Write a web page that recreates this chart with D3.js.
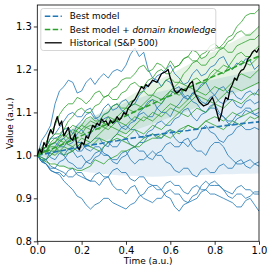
<!DOCTYPE html>
<html>
<head>
<meta charset="utf-8">
<script src="https://cdn.jsdelivr.net/npm/d3@7"></script>
<style>
  body { margin: 0; background: #fff; }
  svg { display: block; font-family: "DejaVu Sans", sans-serif; }
</style>
</head>
<body>
<div id="container"></div>
<script>
// time grid of the simulated paths
const pathTimes = [0,.02,.04,.06,.08,.1,.12,.14,.16,.18,.2,.22,.24,.26,.28,.3,.32,.34,.36,.38,.4,.42,.44,.46,.48,.5,
  .52,.54,.56,.58,.6,.62,.64,.66,.68,.7,.72,.74,.76,.78,.8,.82,.84,.86,.88,.9,.92,.94,.96,.98,1];
// time grid of the means / bands
const bandTimes = [0,.04,.08,.12,.16,.2,.24,.28,.32,.36,.4,.44,.48,.52,.56,.6,.64,.68,.72,.76,.8,.84,.88,.92,.96,1];

// "Best model" paths
const bluePaths = [
  [1.00,1.035,1.05,1.07,1.12,1.15,1.16,1.175,1.17,1.145,1.15,1.17,1.18,1.165,1.18,1.19,1.18,1.195,1.20,1.195,1.21,1.235,1.25,1.23,1.24,1.20,1.18,1.175,1.16,1.175,1.17,1.15,1.15,1.135,1.13,1.145,1.14,1.125,1.12,1.135,1.14,1.155,1.16,1.145,1.15,1.135,1.13,1.145,1.15,1.14,1.155],
  [1.00,1.015,1.02,1.04,1.04,1.045,1.06,1.065,1.05,1.07,1.08,1.095,1.10,1.085,1.09,1.11,1.12,1.105,1.11,1.125,1.13,1.115,1.12,1.14,1.15,1.165,1.17,1.185,1.19,1.20,1.21,1.19,1.18,1.165,1.17,1.19,1.20,1.185,1.19,1.205,1.21,1.225,1.23,1.21,1.20,1.215,1.21,1.225,1.22,1.20,1.21],
  [1.00,0.985,0.99,1.01,1.02,1.035,1.04,1.025,1.03,1.05,1.06,1.045,1.05,1.065,1.07,1.085,1.09,1.075,1.08,1.065,1.06,1.075,1.08,1.095,1.10,1.09,1.09,1.11,1.12,1.135,1.14,1.155,1.16,1.14,1.13,1.145,1.15,1.165,1.17,1.15,1.14,1.125,1.12,1.13,1.13,1.115,1.11,1.125,1.13,1.12,1.125],
  [1.00,1.015,1.01,0.995,0.99,1.005,1.00,1.015,1.02,1.01,1.01,1.025,1.03,1.04,1.04,1.025,1.02,1.04,1.05,1.065,1.07,1.06,1.06,1.045,1.04,1.055,1.06,1.075,1.08,1.07,1.07,1.085,1.09,1.105,1.11,1.09,1.08,1.095,1.10,1.115,1.12,1.10,1.09,1.08,1.08,1.095,1.10,1.11,1.11,1.095,1.10],
  [1.00,0.985,0.98,0.97,0.97,0.985,0.99,1.005,1.01,0.995,1.00,0.985,0.98,0.995,1.00,1.02,1.03,1.02,1.02,1.035,1.04,1.025,1.02,1.03,1.03,1.045,1.05,1.04,1.04,1.055,1.06,1.04,1.03,1.03,1.02,1.035,1.04,1.06,1.07,1.055,1.05,1.035,1.03,1.045,1.05,1.065,1.07,1.06,1.06,1.065,1.06],
  [1.00,0.995,0.99,1.00,1.01,1.01,1.00,0.985,0.98,0.97,0.97,0.985,0.99,1.005,1.01,1.00,1.00,0.985,0.98,0.995,1.00,1.015,1.02,1.01,1.01,0.995,0.99,1.005,1.01,1.025,1.03,1.02,1.02,1.035,1.04,1.02,1.01,1.01,1.00,1.02,1.03,1.03,1.02,1.00,0.99,0.98,0.98,0.985,0.99,0.98,0.985],
  [1.00,1.01,1.01,1.025,1.03,1.02,1.02,1.035,1.04,1.03,1.03,1.015,1.01,1.02,1.02,1.005,1.00,0.99,0.99,1.005,1.01,0.99,0.98,0.99,0.99,1.00,1.01,1.00,1.00,0.985,0.98,0.965,0.96,0.97,0.97,0.955,0.95,0.965,0.97,0.96,0.96,0.975,0.98,0.97,0.97,0.985,0.99,0.975,0.97,0.98,0.975],
  [1.00,0.99,0.98,0.965,0.96,0.96,0.95,0.965,0.97,0.955,0.95,0.945,0.94,0.955,0.96,0.95,0.95,0.965,0.97,0.96,0.96,0.945,0.94,0.95,0.95,0.935,0.93,0.93,0.92,0.905,0.90,0.88,0.87,0.885,0.89,0.905,0.91,0.93,0.94,0.93,0.93,0.93,0.92,0.905,0.90,0.91,0.91,0.90,0.905,0.915,0.915],
  [1.00,0.985,0.98,0.965,0.96,0.955,0.94,0.93,0.92,0.905,0.90,0.885,0.875,0.885,0.89,0.90,0.90,0.89,0.885,0.88,0.875,0.885,0.89,0.905,0.91,0.925,0.93,0.92,0.92,0.935,0.94,0.93,0.93,0.915,0.91,0.925,0.93,0.92,0.92,0.935,0.94,0.93,0.92,0.915,0.91,0.925,0.93,0.92,0.92,0.91,0.91],
  [1.00,0.99,0.99,0.975,0.97,0.965,0.96,0.95,0.95,0.96,0.96,0.945,0.94,0.94,0.93,0.945,0.95,0.93,0.92,0.92,0.91,0.925,0.93,0.91,0.90,0.895,0.89,0.90,0.90,0.915,0.92,0.91,0.91,0.895,0.89,0.895,0.90,0.915,0.92,0.91,0.91,0.905,0.90,0.895,0.89,0.88,0.88,0.895,0.90,0.885,0.87],
  [1.00,1.015,1.02,1.04,1.05,1.065,1.08,1.095,1.10,1.09,1.09,1.105,1.11,1.09,1.08,1.095,1.10,1.115,1.12,1.105,1.10,1.085,1.08,1.10,1.11,1.125,1.13,1.11,1.10,1.10,1.09,1.11,1.12,1.135,1.14,1.125,1.12,1.105,1.10,1.11,1.11,1.095,1.09,1.075,1.07,1.085,1.09,1.105,1.10,1.095,1.09]
];
const blueMean  = [1.0,1.004,1.008,1.012,1.016,1.02,1.024,1.027,1.031,1.034,1.038,1.041,1.044,1.047,1.05,1.053,1.056,1.058,1.061,1.064,1.066,1.069,1.071,1.074,1.076,1.078];
const blueLower = [1.0,.99,.98,.972,.967,.963,.96,.958,.956,.954,.953,.952,.951,.95,.951,.952,.953,.954,.954,.955,.955,.956,.956,.957,.957,.958];
const blueUpper = [1.0,1.018,1.036,1.052,1.065,1.077,1.088,1.096,1.106,1.114,1.123,1.13,1.137,1.144,1.149,1.154,1.159,1.162,1.168,1.173,1.177,1.182,1.186,1.191,1.195,1.198];

// "Best model + domain knowledge" paths
const greenPaths = [
  [1.00,1.02,1.03,1.055,1.07,1.095,1.11,1.12,1.12,1.135,1.13,1.12,1.13,1.145,1.15,1.135,1.14,1.155,1.16,1.175,1.18,1.18,1.19,1.205,1.21,1.195,1.20,1.215,1.21,1.20,1.22,1.205,1.21,1.225,1.23,1.245,1.24,1.225,1.23,1.245,1.25,1.25,1.26,1.275,1.28,1.30,1.31,1.325,1.33,1.33,1.34],
  [1.00,1.015,1.02,1.04,1.05,1.05,1.06,1.08,1.09,1.105,1.11,1.10,1.10,1.115,1.12,1.135,1.14,1.13,1.13,1.145,1.15,1.165,1.17,1.16,1.16,1.175,1.18,1.195,1.20,1.19,1.19,1.205,1.21,1.225,1.23,1.22,1.22,1.235,1.24,1.255,1.26,1.25,1.25,1.265,1.27,1.285,1.29,1.28,1.28,1.29,1.30],
  [1.00,1.005,1.01,1.025,1.03,1.045,1.05,1.04,1.04,1.06,1.07,1.085,1.09,1.08,1.08,1.095,1.10,1.115,1.12,1.11,1.11,1.125,1.13,1.145,1.15,1.14,1.14,1.155,1.16,1.175,1.18,1.17,1.17,1.19,1.20,1.215,1.22,1.21,1.21,1.225,1.23,1.245,1.25,1.24,1.24,1.255,1.26,1.265,1.27,1.27,1.28],
  [1.00,1.01,1.02,1.01,1.01,1.03,1.04,1.05,1.06,1.055,1.05,1.065,1.07,1.065,1.06,1.075,1.09,1.085,1.08,1.09,1.10,1.115,1.12,1.115,1.11,1.12,1.13,1.125,1.12,1.135,1.15,1.145,1.14,1.15,1.16,1.175,1.18,1.17,1.17,1.19,1.20,1.195,1.19,1.205,1.22,1.235,1.24,1.23,1.23,1.245,1.255],
  [1.00,1.01,1.01,1.03,1.04,1.035,1.03,1.04,1.05,1.06,1.07,1.065,1.06,1.07,1.08,1.075,1.07,1.08,1.09,1.10,1.11,1.105,1.10,1.11,1.12,1.13,1.14,1.135,1.13,1.14,1.15,1.16,1.17,1.165,1.16,1.155,1.15,1.16,1.17,1.18,1.19,1.20,1.21,1.205,1.20,1.21,1.22,1.215,1.21,1.22,1.23],
  [1.00,0.995,0.99,1.00,1.01,1.02,1.03,1.025,1.02,1.03,1.04,1.035,1.03,1.04,1.05,1.06,1.07,1.065,1.06,1.055,1.05,1.06,1.07,1.08,1.09,1.085,1.08,1.09,1.10,1.11,1.12,1.115,1.11,1.12,1.13,1.14,1.15,1.145,1.14,1.15,1.16,1.155,1.15,1.16,1.17,1.18,1.19,1.185,1.18,1.19,1.20],
  [1.00,1.01,1.02,1.025,1.03,1.04,1.05,1.06,1.07,1.065,1.06,1.07,1.08,1.075,1.07,1.065,1.06,1.07,1.08,1.075,1.07,1.08,1.09,1.085,1.08,1.09,1.10,1.095,1.09,1.10,1.11,1.105,1.10,1.11,1.12,1.13,1.14,1.135,1.13,1.125,1.12,1.13,1.14,1.15,1.16,1.155,1.15,1.155,1.16,1.165,1.17],
  [1.00,1.005,1.01,1.005,1.00,1.01,1.02,1.015,1.01,1.02,1.03,1.025,1.02,1.03,1.04,1.035,1.03,1.04,1.05,1.045,1.04,1.05,1.06,1.055,1.05,1.06,1.07,1.065,1.06,1.07,1.08,1.09,1.10,1.095,1.09,1.10,1.11,1.105,1.10,1.11,1.12,1.115,1.11,1.12,1.13,1.125,1.12,1.13,1.14,1.145,1.14],
  [1.00,0.99,0.985,0.98,0.98,0.975,0.975,0.97,0.97,0.965,0.965,0.97,0.975,0.99,0.985,0.98,0.99,0.995,1.00,1.01,1.01,1.015,1.02,1.02,1.03,1.035,1.04,1.04,1.05,1.045,1.04,1.05,1.06,1.065,1.07,1.065,1.06,1.07,1.08,1.085,1.09,1.085,1.08,1.09,1.10,1.095,1.09,1.095,1.10,1.105,1.11],
  [1.00,1.01,1.01,1.02,1.02,1.01,1.00,1.005,1.01,1.02,1.03,1.025,1.02,1.015,1.01,1.02,1.03,1.035,1.04,1.035,1.03,1.025,1.02,1.03,1.04,1.045,1.05,1.045,1.04,1.05,1.06,1.055,1.05,1.06,1.07,1.065,1.06,1.07,1.08,1.075,1.07,1.065,1.06,1.07,1.08,1.075,1.07,1.08,1.09,1.085,1.09]
];
const greenMean  = [1.0,1.009,1.018,1.027,1.036,1.046,1.055,1.064,1.074,1.083,1.092,1.102,1.111,1.12,1.13,1.139,1.148,1.157,1.167,1.176,1.185,1.194,1.203,1.213,1.222,1.231];
const greenLower = [1.0,.996,1.0,1.0045,1.01,1.017,1.023,1.03,1.037,1.044,1.051,1.059,1.066,1.073,1.081,1.089,1.096,1.103,1.112,1.119,1.127,1.134,1.142,1.151,1.158,1.166];
const greenUpper = [1.0,1.022,1.036,1.0495,1.062,1.075,1.087,1.098,1.111,1.122,1.133,1.145,1.156,1.167,1.179,1.189,1.2,1.211,1.222,1.233,1.243,1.254,1.264,1.275,1.286,1.296];

// historical S&P 500 (normalised)
const histT = [0,.01,.02,.03,.04,.05,.06,.07,.08,.09,.1,.11,.12,.13,.14,.15,.16,.17,.18,.19,.2,.21,.22,.23,.24,.25,.26,.27,.28,.29,.3,.31,.32,.33,.34,.35,.36,.37,.38,.39,.4,.41,.42,.43,.44,.45,.46,.47,.48,.49,.5,.52,.54,.56,.58,.59,.6,.62,.63,.65,.67,.69,.7,.71,.73,.75,.77,.79,.8,.81,.82,.83,.84,.85,.86,.87,.88,.89,.9,.91,.92,.93,.94,.95,.96,.97,.98,.99,1];
const histV = [1.0,1.015,1.005,1.03,1.02,1.045,1.06,1.05,1.075,1.09,1.07,1.08,1.045,1.055,1.065,1.04,1.035,1.05,1.02,1.013,1.03,1.025,1.045,1.04,1.055,1.07,1.065,1.075,1.07,1.085,1.078,1.08,1.07,1.082,1.075,1.08,1.09,1.082,1.088,1.1,1.095,1.11,1.115,1.125,1.13,1.14,1.15,1.16,1.155,1.165,1.16,1.175,1.17,1.19,1.195,1.2,1.18,1.15,1.145,1.155,1.15,1.168,1.172,1.145,1.125,1.115,1.12,1.135,1.12,1.1,1.08,1.095,1.12,1.135,1.13,1.155,1.165,1.18,1.175,1.19,1.198,1.2,1.21,1.225,1.23,1.24,1.245,1.24,1.25];

const xTicks = [0, 0.2, 0.4, 0.6, 0.8, 1.0];
const yTicks = [0.8, 0.9, 1.0, 1.1, 1.2, 1.3];

const W = 273, H = 273;
const margin = { top: 5, right: 14, bottom: 31.7, left: 37.3 };
const width = W - margin.left - margin.right;
const height = H - margin.top - margin.bottom;

const blue = '#1f77b4', green = '#2ca02c';

const svg = d3.select('#container')
  .append('svg')
  .attr('width', W)
  .attr('height', H);

const g = svg.append('g')
  .attr('transform', `translate(${margin.left},${margin.top})`);

const x = d3.scaleLinear().domain([0, 1]).range([0, width]);
const y = d3.scaleLinear().domain([0.8, 1.35]).range([height, 0]);

g.append('clipPath').attr('id', 'clip')
  .append('rect').attr('width', width).attr('height', height);

const plot = g.append('g').attr('clip-path', 'url(#clip)');

const pathLine = d3.line().x((d, i) => x(pathTimes[i])).y(d => y(d));
const bandLine = d3.line().x((d, i) => x(bandTimes[i])).y(d => y(d));
const band = (lo, hi) => d3.area()
  .x((d, i) => x(bandTimes[i]))
  .y0((d, i) => y(lo[i]))
  .y1((d, i) => y(hi[i]))(bandTimes);

// shaded bands
plot.append('path').attr('d', band(blueLower, blueUpper))
  .attr('fill', blue).attr('fill-opacity', 0.12);
plot.append('path').attr('d', band(greenLower, greenUpper))
  .attr('fill', green).attr('fill-opacity', 0.12);

// sample paths
plot.selectAll('.bp').data(bluePaths).enter().append('path')
  .attr('class', 'bp').attr('d', pathLine)
  .attr('fill', 'none').attr('stroke', blue)
  .attr('stroke-opacity', 0.8).attr('stroke-width', 1);

plot.selectAll('.gp').data(greenPaths).enter().append('path')
  .attr('class', 'gp').attr('d', pathLine)
  .attr('fill', 'none').attr('stroke', green)
  .attr('stroke-opacity', 0.8).attr('stroke-width', 1);

// means
plot.append('path').attr('d', bandLine(blueMean))
  .attr('fill', 'none').attr('stroke', blue)
  .attr('stroke-width', 1.6).attr('stroke-dasharray', '5.5,2.4');
plot.append('path').attr('d', bandLine(greenMean))
  .attr('fill', 'none').attr('stroke', green)
  .attr('stroke-width', 1.6).attr('stroke-dasharray', '5.5,2.4');

// historical
plot.append('path')
  .attr('d', d3.line().x((d, i) => x(histT[i])).y(d => y(d))(histV))
  .attr('fill', 'none').attr('stroke', '#000')
  .attr('stroke-width', 1.3).attr('stroke-linejoin', 'round');

// axes
const xAxis = d3.axisBottom(x).tickValues(xTicks).tickFormat(d3.format('.1f')).tickSize(3.5).tickPadding(2.5);
const yAxis = d3.axisLeft(y).tickValues(yTicks).tickFormat(d3.format('.1f')).tickSize(3.5).tickPadding(2);

const gx = g.append('g').attr('transform', `translate(0,${height})`).call(xAxis);
const gy = g.append('g').call(yAxis);
[gx, gy].forEach(a => {
  a.select('.domain').remove();
  a.selectAll('line').attr('stroke', '#000').attr('stroke-width', 0.8);
  a.selectAll('text').attr('font-size', 10).attr('fill', '#000')
    .attr('font-family', '"DejaVu Sans", sans-serif');
});

// frame
g.append('rect').attr('width', width).attr('height', height)
  .attr('fill', 'none').attr('stroke', '#000').attr('stroke-width', 0.8);

// axis labels
svg.append('text')
  .attr('x', margin.left + width / 2).attr('y', 264)
  .attr('text-anchor', 'middle').attr('font-size', 9)
  .text('Time (a.u.)');
svg.append('text')
  .attr('transform', `translate(12.5,${margin.top + height / 2}) rotate(-90)`)
  .attr('text-anchor', 'middle').attr('font-size', 9)
  .text('Value (a.u.)');

// legend
const legend = g.append('g').attr('transform', 'translate(3.5,3.5)');
legend.append('rect')
  .attr('width', 175).attr('height', 42).attr('rx', 2.5)
  .attr('fill', '#fff').attr('fill-opacity', 0.8)
  .attr('stroke', '#ccc').attr('stroke-width', 0.8);

const items = [
  { color: blue, dash: '5.5,2.4', width: 1.6, label: ['Best model'] },
  { color: green, dash: '5.5,2.4', width: 1.6, label: ['Best model + ', 'domain knowledge'] },
  { color: '#000', dash: null, width: 1.3, label: ['Historical (S&P 500)'] }
];
items.forEach((it, i) => {
  const row = legend.append('g').attr('transform', `translate(0,${7.7 + i * 13.3})`);
  row.append('line').attr('x1', 4).attr('x2', 21).attr('y1', 0).attr('y2', 0)
    .attr('stroke', it.color).attr('stroke-width', it.width)
    .attr('stroke-dasharray', it.dash);
  const t = row.append('text').attr('x', 29).attr('y', 3.2).attr('font-size', 8.8);
  it.label.forEach((s, k) => t.append('tspan').text(s)
    .attr('font-style', k === 1 ? 'italic' : null));
});
</script>
</body>
</html>
